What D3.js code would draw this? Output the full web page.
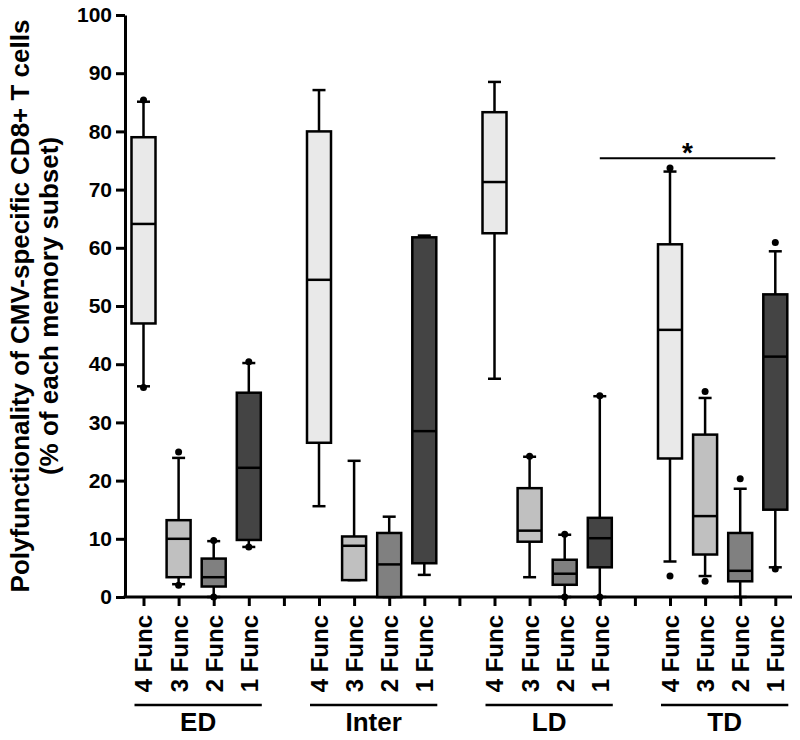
<!DOCTYPE html>
<html><head><meta charset="utf-8">
<script src="https://cdn.jsdelivr.net/npm/d3@7/dist/d3.min.js"></script>
<style>body{margin:0;background:#fff}svg{display:block}text{font-family:"Liberation Sans",Arial,Helvetica,sans-serif;font-weight:bold}</style>
</head><body><svg id="c" width="800" height="740"></svg>
<script>
const groups = ["ED", "Inter", "LD", "TD"];
const funcs = ["4 Func", "3 Func", "2 Func", "1 Func"];
const yTicks = [0, 10, 20, 30, 40, 50, 60, 70, 80, 90, 100];
// per group: [4 Func, 3 Func, 2 Func, 1 Func]
const whiskerLow  = [[36.2, 2.2, 0, 8.6], [15.6, 2.9, 0, 3.8], [37.5, 3.4, 0, 0], [6.1, 3.6, 0, 5.1]];
const q1          = [[47.0, 3.4, 1.8, 9.8], [26.5, 2.9, 0, 5.8], [62.5, 9.5, 2.1, 5.1], [23.8, 7.3, 2.7, 15.0]];
const median      = [[64.1, 10.0, 3.4, 22.2], [54.5, 8.8, 5.6, 28.5], [71.3, 11.4, 4.0, 10.1], [45.9, 13.9, 4.5, 41.3]];
const q3          = [[79.0, 13.2, 6.6, 35.1], [80.0, 10.4, 11.0, 61.8], [83.3, 18.7, 6.4, 13.6], [60.6, 27.9, 11.0, 52.0]];
const whiskerHigh = [[85.1, 23.9, 9.6, 40.2], [87.1, 23.4, 13.8, 62.1], [88.5, 24.1, 10.7, 34.5], [73.1, 34.2, 18.6, 59.4]];
const outliers = [
  [[85.4, 36.0], [24.9, 2.0], [9.7, 0], [40.4, 8.6]],
  [[], [], [], []],
  [[], [24.2], [10.8, 0], [34.6, 0]],
  [[73.7, 3.6], [35.3, 2.7], [20.3], [60.9, 4.8]]
];
const fills = ["#e9e9e9", "#c0c0c0", "#808080", "#444444"];
const sigBar = {from: [2, 3], to: [3, 3], value: 75.4, label: "*"};
const yTitle = ["Polyfunctionality of CMV-specific CD8+ T cells", "(% of each memory subset)"];

const svg = d3.select("#c");
const y = d3.scaleLinear().domain([0, 100]).range([597, 15]);
const slot = (g, f) => g * 5 + f;
const x = d3.scaleLinear().domain([0, 18]).range([143.5, 775.3]);
const axisX = 125;

// y axis
const ya = svg.append("g").attr("transform", `translate(${axisX},0)`)
  .call(d3.axisLeft(y).tickValues(yTicks).tickSize(9).tickSizeOuter(0).tickPadding(4));
ya.select(".domain").attr("stroke-width", 3);
ya.selectAll(".tick line").attr("stroke-width", 3);
ya.selectAll(".tick text").attr("font-size", 21).attr("fill", "#000")
  .style("font-family", '"Liberation Sans",Arial,sans-serif').style("font-weight", "bold");

// x axis
const labels = {};
groups.forEach((g, gi) => funcs.forEach((f, fi) => labels[slot(gi, fi)] = f));
const xa = svg.append("g").attr("transform", `translate(0,${y(0)})`)
  .call(d3.axisBottom(x).tickValues(d3.range(19)).tickSize(9).tickSizeOuter(0).tickFormat(d => labels[d] || ""));
xa.select(".domain").attr("d", `M${axisX - 1.5},0H792`).attr("stroke-width", 3);
xa.selectAll(".tick line").attr("stroke-width", 3);
xa.selectAll(".tick text").attr("font-size", 24).attr("fill", "#000")
  .style("font-family", '"Liberation Sans",Arial,sans-serif').style("font-weight", "bold")
  .attr("transform", "rotate(-90)").attr("text-anchor", "end")
  .attr("x", -18).attr("y", 0).attr("dy", "0.35em");

// boxes
const bw = 24, cw = 13;
groups.forEach((g, gi) => funcs.forEach((f, fi) => {
  const cx = x(slot(gi, fi));
  const gg = svg.append("g");
  const wl = whiskerLow[gi][fi], wh = whiskerHigh[gi][fi];
  gg.append("line").attr("x1", cx).attr("x2", cx).attr("y1", y(wh)).attr("y2", y(wl))
    .attr("stroke", "#000").attr("stroke-width", 2.5);
  [wl, wh].forEach(v => gg.append("line").attr("x1", cx - cw / 2).attr("x2", cx + cw / 2)
    .attr("y1", y(v)).attr("y2", y(v)).attr("stroke", "#000").attr("stroke-width", 2.5));
  gg.append("rect").attr("x", cx - bw / 2).attr("width", bw)
    .attr("y", y(q3[gi][fi])).attr("height", y(q1[gi][fi]) - y(q3[gi][fi]))
    .attr("fill", fills[fi]).attr("stroke", "#000").attr("stroke-width", 2.5);
  gg.append("line").attr("x1", cx - bw / 2).attr("x2", cx + bw / 2)
    .attr("y1", y(median[gi][fi])).attr("y2", y(median[gi][fi]))
    .attr("stroke", "#000").attr("stroke-width", 2.5);
  outliers[gi][fi].forEach(v => gg.append("circle").attr("cx", cx).attr("cy", y(v)).attr("r", 3.5).attr("fill", "#000"));
}));

// group underlines + labels
groups.forEach((g, gi) => {
  const x0 = x(slot(gi, 0)) - 9, x1 = x(slot(gi, 3)) + 13;
  svg.append("line").attr("x1", x0).attr("x2", x1).attr("y1", 705).attr("y2", 705)
    .attr("stroke", "#000").attr("stroke-width", 2.5);
  svg.append("text").attr("x", (x0 + x1) / 2).attr("y", 731).attr("text-anchor", "middle")
    .attr("font-size", 26).text(g);
});

// significance bar
const sx0 = x(slot(sigBar.from[0], sigBar.from[1])), sx1 = x(slot(sigBar.to[0], sigBar.to[1]));
svg.append("line").attr("x1", sx0).attr("x2", sx1).attr("y1", y(sigBar.value)).attr("y2", y(sigBar.value))
  .attr("stroke", "#000").attr("stroke-width", 2);
svg.append("text").attr("x", (sx0 + sx1) / 2).attr("y", y(sigBar.value) + 4).attr("text-anchor", "middle")
  .attr("font-size", 28).text(sigBar.label);

// y title
[29, 58].forEach((tx, i) => svg.append("text")
  .attr("transform", `translate(${tx},306) rotate(-90)`).attr("text-anchor", "middle")
  .attr("font-size", 26).text(yTitle[i]));
</script></body></html>
